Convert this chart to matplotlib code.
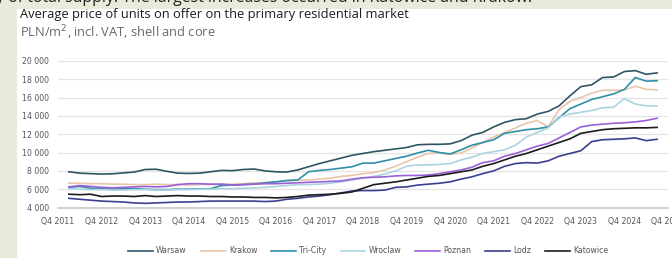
import matplotlib
matplotlib.use("Agg")
import matplotlib.pyplot as plt
from matplotlib.patches import Rectangle

# quarterly prices, Q1 2012 .. Q3 2025 (PLN/m2)
warsaw = [7900, 7750, 7700, 7650, 7680, 7780, 7870, 8150, 8180, 7950, 7750, 7720, 7750, 7900,
          8050, 8020, 8150, 8200, 8000, 7900, 7870, 8100, 8450, 8800, 9100, 9400, 9700, 9900,
          10100, 10250, 10400, 10550, 10850, 10900, 10900, 10950, 11300, 11900, 12200, 12800,
          13300, 13600, 13700, 14200, 14500, 15100, 16200, 17200, 17400, 18200, 18250, 18850,
          18950, 18550, 18700]
krakow = [6650, 6650, 6600, 6600, 6550, 6550, 6500, 6500, 6550, 6500, 6500, 6450, 6500, 6500,
          6550, 6550, 6600, 6700, 6700, 6800, 6900, 7000, 7000, 7100, 7200, 7400, 7500, 7700,
          7800, 8100, 8500, 9000, 9500, 9900, 10000, 9800, 9950, 10500, 11100, 11700, 12200,
          12700, 13200, 13500, 12800, 14700, 15600, 16000, 16500, 16800, 16800, 16850, 17250,
          16900, 16850]
tricity = [6200, 6300, 6100, 6050, 6000, 6050, 6050, 6000, 5950, 5950, 6000, 6000, 6050, 6050,
           6400, 6450, 6500, 6550, 6700, 6800, 6950, 7000, 7900, 8050, 8150, 8300, 8450, 8850,
           8850, 9100, 9350, 9600, 9950, 10250, 10000, 9850, 10300, 10800, 11100, 11400, 12100,
           12300, 12500, 12600, 12800, 13800, 14800, 15300, 15800, 16100, 16400, 16900, 18200,
           17800, 17850]
wroclaw = [6050, 6000, 5950, 5950, 5900, 5900, 5950, 5950, 5900, 5900, 5950, 5950, 6000, 6000,
           6050, 6050, 6100, 6150, 6200, 6300, 6400, 6500, 6500, 6550, 6650, 6800, 7000, 7200,
           7400, 7650, 8000, 8500, 8650, 8650, 8700, 8800, 9200, 9500, 9900, 10100, 10300, 10800,
           11700, 12200, 12700, 13900, 14200, 14400, 14600, 14900, 14950, 15900, 15300, 15100,
           15100]
poznan = [6250, 6400, 6300, 6200, 6150, 6200, 6250, 6300, 6250, 6300, 6500, 6600, 6600, 6550,
          6550, 6450, 6500, 6550, 6600, 6600, 6650, 6700, 6750, 6800, 6850, 6900, 7100, 7250,
          7300, 7350, 7450, 7500, 7500, 7550, 7700, 7900, 8100, 8400, 8900, 9100, 9600, 9900,
          10300, 10700, 11000, 11600, 12200, 12800, 13000, 13100, 13200, 13250, 13350, 13500,
          13750]
lodz = [5000, 4900, 4800, 4700, 4650, 4600, 4500, 4450, 4500, 4550, 4600, 4600, 4650, 4700,
        4700, 4700, 4700, 4700, 4650, 4700, 4900, 5000, 5150, 5250, 5400, 5600, 5800, 5850,
        5850, 5900, 6200, 6250, 6450, 6550, 6650, 6800, 7100, 7350, 7700, 8000, 8500, 8800,
        8900, 8850, 9100, 9600, 9900, 10200, 11200, 11400, 11450, 11500, 11600, 11300, 11450]
katowice = [5450, 5400, 5450, 5200, 5250, 5250, 5200, 5300, 5200, 5250, 5300, 5250, 5250, 5200,
            5200, 5150, 5150, 5100, 5100, 5050, 5100, 5200, 5350, 5400, 5450, 5550, 5700, 6100,
            6500, 6650, 6800, 7000, 7200, 7400, 7500, 7700, 7900, 8100, 8500, 8800, 9200, 9600,
            9900, 10300, 10700, 11100, 11500, 12100, 12300, 12500, 12600, 12650, 12700, 12700,
            12750]

names = ["Warsaw", "Krakow", "Tri-City", "Wroclaw", "Poznan", "Lodz", "Katowice"]
series = [warsaw, krakow, tricity, wroclaw, poznan, lodz, katowice]
colors = ["#2f5565", "#e8c6aa", "#2f8ea8", "#acd4e0", "#9a60d8", "#3b3f8e", "#1c1c1c"]

tick_labels = ["Q4 %d" % y for y in range(2011, 2026)]
tick_pos = [-1 + 4 * k for k in range(len(tick_labels))]
yticks = list(range(4000, 20001, 2000))

fig = plt.figure(figsize=(6.72, 2.58), dpi=100)
fig.patch.set_facecolor("#e9ead9")
panel = Rectangle((17 / 672, 0), 1, (258 - 9) / 258, transform=fig.transFigure,
                  facecolor="white", edgecolor="none", zorder=-10)
fig.patches.append(panel)

fig.text(-4 / 672, 1 + 10 / 258, "y of total supply. The largest increases occurred in Katowice and Krakow.",
         fontsize=11.4, color="#222222", family="Open Sans", va="top")
fig.text(20 / 672, 1 - 8 / 258, "Average price of units on offer on the primary residential market",
         fontsize=9.3, color="#1e1e1e", family="Open Sans", va="top")
fig.text(20 / 672, 1 - 23 / 258, "PLN/m$^2$, incl. VAT, shell and core",
         fontsize=9.3, color="#6a6a6a", family="Open Sans", va="top")

ax = fig.add_axes([58 / 672, (258 - 207.5) / 258, 610 / 672, 146.5 / 258])
ax.set_facecolor("none")
x = list(range(len(warsaw)))
for name, vals, c in zip(names, series, colors):
    ax.plot(x, vals, color=c, lw=1.2, label=name)

ax.set_xlim(-0.45, 55.0)
ax.set_ylim(4000, 20000)
ax.set_yticks(yticks)
ax.set_yticklabels([f"{v:,}".replace(",", " ") for v in yticks])
ax.set_xticks(tick_pos)
ax.set_xticklabels(tick_labels)
ax.grid(axis="y", color="#e4e4e4", lw=0.9)
ax.set_axisbelow(True)
for s in ["top", "right", "left"]:
    ax.spines[s].set_visible(False)
ax.spines["bottom"].set_color("#c8c8c8")
ax.spines["bottom"].set_linewidth(1.2)
ax.tick_params(length=0, labelsize=5.6, colors="#555555")
ax.tick_params(axis="y", pad=6.5)
ax.tick_params(axis="x", pad=7)

fig.legend(loc="center", bbox_to_anchor=(0.548, 0.028), ncol=7, frameon=False,
           fontsize=5.6, labelcolor="#555555", handlelength=3.2, columnspacing=1.8,
           handletextpad=0.4)

fig.savefig("out.png", dpi=100, facecolor=fig.get_facecolor())
